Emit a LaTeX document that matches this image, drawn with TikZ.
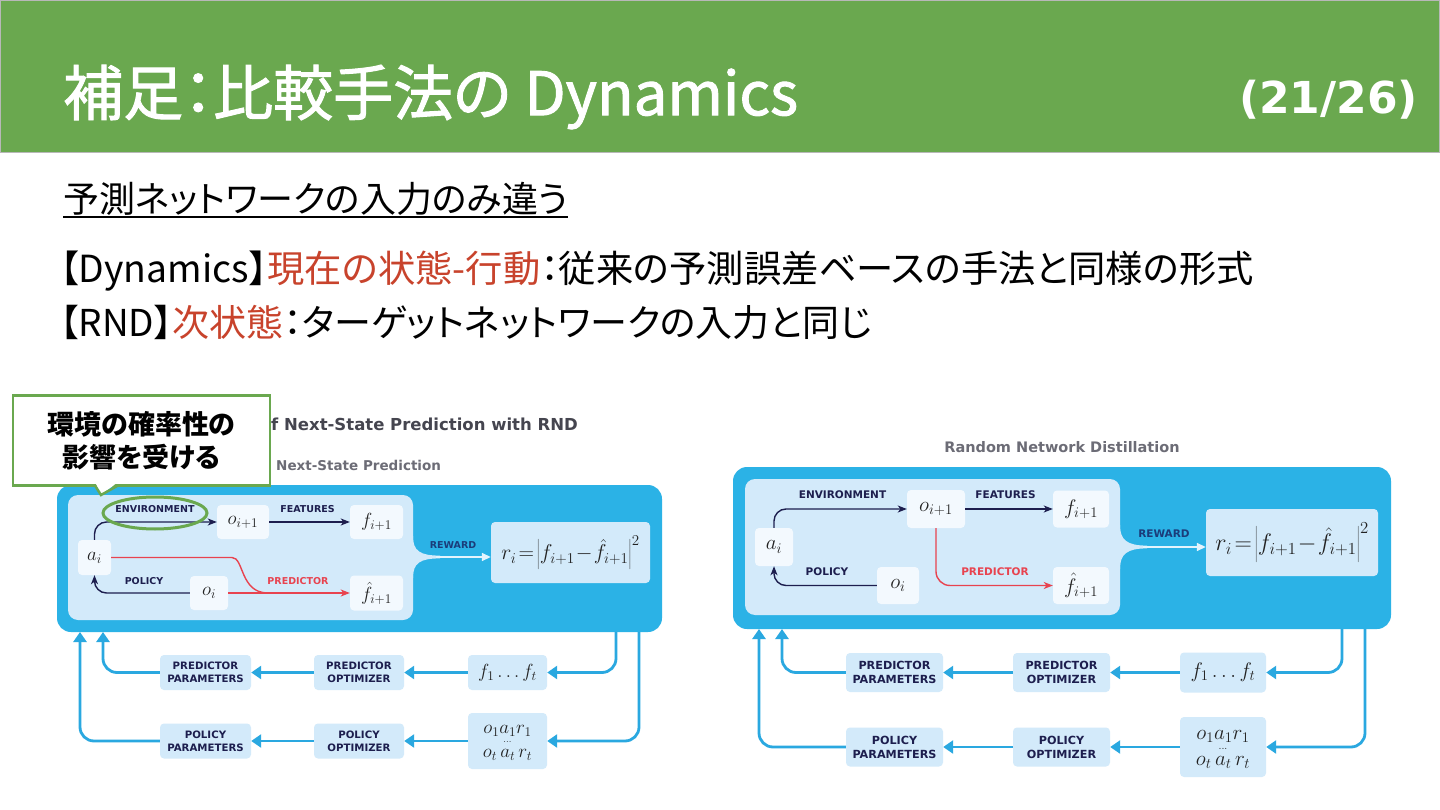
\RequirePackage{fix-cm}
\documentclass[tikz,border=0pt]{standalone}
\usepackage[no-math]{fontspec}
\usetikzlibrary{arrows.meta}
\newfontfamily\jp[RawFeature=+palt]{Noto Sans CJK JP}
\newfontfamily\jpt[RawFeature=+palt,FakeBold=1.6]{Noto Sans CJK JP}
\newfontfamily\dv{DejaVu Sans}
\definecolor{hdr}{HTML}{6AA84F}
\definecolor{hdrline}{HTML}{B8B8B8}
\definecolor{jred}{HTML}{C8432C}
\definecolor{obl}{HTML}{2BB2E6}
\definecolor{pnlc}{HTML}{D3EAFA}
\definecolor{wbc}{HTML}{F3F9FE}
\definecolor{lbc}{HTML}{D3EAFA}
\definecolor{navy}{HTML}{1D1E4E}
\definecolor{rnavy}{HTML}{1B3C7A}
\definecolor{dred}{HTML}{E8434F}
\definecolor{fbc}{HTML}{2AA8E0}
\definecolor{rwc}{HTML}{E4F4FD}
\definecolor{mtxt}{HTML}{222222}
\definecolor{ttl}{HTML}{45454F}
\definecolor{sttl}{HTML}{6C6C76}
\definecolor{cg}{HTML}{6AA84F}
\begin{document}
\begin{tikzpicture}[x=1pt,y=-1pt,
  obox/.style={fill=obl, rounded corners=14pt},
  pnl/.style={fill=pnlc, rounded corners=10pt},
  wb/.style={fill=wbc, rounded corners=4pt, inner sep=0, text=mtxt},
  lb/.style={fill=lbc, rounded corners=4pt, inner sep=0, align=center, text=navy},
  lab/.style={inner sep=0, text=navy},
  nav/.style={draw=navy, line width=1.4pt, rounded corners=12pt, -{Stealth[length=9pt,width=7pt,inset=2.5pt]}},
  rdl/.style={draw=dred, line width=1.4pt, rounded corners=14pt},
  rda/.style={rdl, -{Stealth[length=9pt,width=7pt,inset=2.5pt]}},
  fb/.style={draw=fbc, line width=2.8pt, rounded corners=14pt, -{Triangle[length=10pt,width=13pt]}},
  rw/.style={draw=rwc, line width=1.6pt, -{Triangle[length=9pt,width=8pt]}},
  mL/.style={font=\fontsize{19}{24}\selectfont},
  mR/.style={font=\fontsize{21}{26}\selectfont},
  labL/.style={lab, font=\dv\bfseries\fontsize{9.5}{11}\selectfont},
  labR/.style={lab, font=\dv\bfseries\fontsize{10.5}{12}\selectfont},
  lbL/.style={lb, font=\dv\bfseries\fontsize{10.2}{13}\selectfont},
  lbR/.style={lb, font=\dv\bfseries\fontsize{11.2}{14}\selectfont},
]
\useasboundingbox (0,0) rectangle (1440,810);
\fill[white] (0,0) rectangle (1440,810);
% header
\fill[hdr] (0,0) rectangle (1440,152);
\draw[hdrline, line width=1pt] (0.5,152) -- (0.5,0.5) -- (1439.5,0.5) -- (1439.5,152);
\draw[hdrline, line width=1.5pt] (0,152.5) -- (1440,152.5);
\node[anchor=west, text=white, font=\jpt\fontsize{60}{70}\selectfont, inner sep=0] (title) at (63,97) {補足：比較手法の Dynamics};
\node[anchor=east, text=white, font=\dv\bfseries\fontsize{44}{50}\selectfont, inner sep=0] (page) at (1418,100) {(21/26)};
% body text
\node[anchor=west, font=\jp\fontsize{36}{42}\selectfont, inner sep=0] (sub) at (63,199) {予測ネットワークの入力のみ違う};
\draw[line width=2pt] ([yshift=-1pt]sub.south west) -- ([yshift=-1pt]sub.south east);
\node[anchor=west, font=\jp\fontsize{37.3}{43}\selectfont, inner sep=0] (l2) at (60,271) {【Dynamics】\textcolor{jred}{現在の状態-行動}：従来の予測誤差ベースの手法と同様の形式};
\node[anchor=west, font=\jp\fontsize{37}{43}\selectfont, inner sep=0] (l3) at (60,322) {【RND】\textcolor{jred}{次状態}：ターゲットネットワークの入力と同じ};

% ================= LEFT DIAGRAM =================
\node[anchor=west, inner sep=0, text=ttl, font=\dv\bfseries\fontsize{16.5}{18}\selectfont] (tL) at (271,424) {f Next-State Prediction with RND};
\node[anchor=west, inner sep=0, text=sttl, font=\dv\bfseries\fontsize{13.5}{15}\selectfont] (stL) at (276,465) {Next-State Prediction};
\fill[obox] (57,485) rectangle (662,632);
\fill[pnl] (68,495) rectangle (413,620);
\fill[pnlc] (405,536) -- (413,536) .. controls (413,551) and (420,555.6) .. (440,555.6) -- (440,558.4) .. controls (420,558.4) and (413,563) .. (413,578) -- (405,578) -- cycle;
\node[wb, mL, minimum width=33pt, minimum height=35pt] (aL) at (94.5,557.5) {$a_i$};
\node[wb, mL, minimum width=52pt, minimum height=34pt] (o1L) at (243,522) {$o_{i+1}$};
\node[wb, mL, minimum width=38pt, minimum height=34pt] (oL) at (209,593) {$o_i$};
\node[wb, mL, minimum width=53pt, minimum height=34pt] (fL) at (376.5,522) {$f_{i+1}$};
\node[wb, mL, minimum width=53pt, minimum height=35pt] (fhL) at (376.5,593) {$\hat f_{i+1}$};
\node[wb, fill=pnlc, font=\fontsize{21.5}{26}\selectfont, minimum width=159pt, minimum height=61pt] (fmL) at (570.5,552.5) {$r_i\!=\!\left|f_{i+1}\!-\!\hat f_{i+1}\right|^2$};
\coordinate (rwL) at (436,557);
\draw[rw] (rwL) -- (rwL -| fmL.west);
\node[labL, text=rnavy] (rwtL) at (453,545) {REWARD};
\draw[nav] (aL.north) |- (o1L.west);
\draw[nav] (o1L) -- (fL);
\draw[nav] (oL.west) -| (aL.south);
\draw[rdl] (aL.east) -- (218,557.5) .. controls (244,557.5) and (240,593) .. (268,593);
\draw[rda] (oL.east) -- (fhL.west);
\node[labL] (envL) at (155,509) {ENVIRONMENT};
\node[labL] (featL) at (307.5,509) {FEATURES};
\node[labL] (polL) at (144,581) {POLICY};
\node[labL, text=dred] (predL) at (298,581) {PREDICTOR};
% lower
\node[lbL, minimum width=91pt, minimum height=35pt] (ppL) at (205.5,672.5) {PREDICTOR\\PARAMETERS};
\node[lbL, minimum width=90pt, minimum height=35pt] (poL) at (359,672.5) {PREDICTOR\\OPTIMIZER};
\node[lb, mL, text=mtxt, minimum width=79pt, minimum height=35pt] (fsL) at (507.5,672.5) {$f_1\ldots f_t$};
\node[lbL, minimum width=91pt, minimum height=35pt] (qpL) at (205.5,741) {POLICY\\PARAMETERS};
\node[lbL, minimum width=90pt, minimum height=35pt] (qoL) at (359,741) {POLICY\\OPTIMIZER};
\node[lb, mL, text=mtxt, minimum width=79pt, minimum height=56pt] (trL) at (507.5,741) {$\begin{array}{@{}c@{}}o_1a_1r_1\\[-15pt]{\scriptscriptstyle\ldots}\\[-9pt]o_t\,a_t\,r_t\end{array}$};
\coordinate (dL1) at (616,632);
\coordinate (dL2) at (639,632);
\coordinate (uL1) at (103,632);
\coordinate (uL2) at (80,632);
\draw[fb] (dL1) |- (fsL.east);
\draw[fb] (dL2) |- (trL.east);
\draw[fb] (fsL.west) -- (poL.east);
\draw[fb] (poL.west) -- (ppL.east);
\draw[fb] (ppL.west) -| (uL1);
\draw[fb] (trL.west) -- (qoL.east);
\draw[fb] (qoL.west) -- (qpL.east);
\draw[fb] (qpL.west) -| (uL2);

% ================= RIGHT DIAGRAM =================
\node[inner sep=0, text=sttl, font=\dv\bfseries\fontsize{14.5}{16}\selectfont] (tR) at (1062,447) {Random Network Distillation};
\fill[obox] (733,467) rectangle (1391,629);
\fill[pnl] (745,479) rectangle (1120,615);
\fill[pnlc] (1112,525) -- (1120,525) .. controls (1120,540) and (1127,545.6) .. (1147,545.6) -- (1147,548.4) .. controls (1127,548.4) and (1120,554) .. (1120,569) -- (1112,569) -- cycle;
\node[wb, mR, minimum width=38pt, minimum height=38pt] (aR) at (774,547) {$a_i$};
\node[wb, mR, minimum width=58pt, minimum height=38pt] (o1R) at (936,509) {$o_{i+1}$};
\node[wb, mR, minimum width=42pt, minimum height=37pt] (oR) at (898,585.5) {$o_i$};
\node[wb, mR, minimum width=56pt, minimum height=37pt] (fR) at (1081,509) {$f_{i+1}$};
\node[wb, mR, minimum width=56pt, minimum height=37pt] (fhR) at (1081,585.5) {$\hat f_{i+1}$};
\node[wb, fill=pnlc, font=\fontsize{24}{29}\selectfont, minimum width=172pt, minimum height=67pt] (fmR) at (1292,542.5) {$r_i\!=\!\left|f_{i+1}\!-\!\hat f_{i+1}\right|^2$};
\coordinate (rwR) at (1143,547);
\draw[rw] (rwR) -- (rwR -| fmR.west);
\node[labR, text=rnavy] (rwtR) at (1164,534) {REWARD};
\draw[nav] (aR.north) |- (o1R.west);
\draw[nav] (o1R) -- (fR);
\draw[nav] (oR.west) -| (aR.south);
\draw[rda] (o1R.south) |- (fhR.west);
\node[labR] (envR) at (842.5,495) {ENVIRONMENT};
\node[labR] (featR) at (1005.5,495) {FEATURES};
\node[labR] (polR) at (827,572) {POLICY};
\node[labR, text=dred] (predR) at (995,572) {PREDICTOR};
% lower
\node[lbR, minimum width=97pt, minimum height=39pt] (ppR) at (894.5,672.5) {PREDICTOR\\PARAMETERS};
\node[lbR, minimum width=97pt, minimum height=39pt] (poR) at (1061.5,672.5) {PREDICTOR\\OPTIMIZER};
\node[lb, mR, text=mtxt, minimum width=86pt, minimum height=40pt] (fsR) at (1223,672.5) {$f_1\ldots f_t$};
\node[lbR, minimum width=97pt, minimum height=39pt] (qpR) at (894.5,747) {POLICY\\PARAMETERS};
\node[lbR, minimum width=97pt, minimum height=39pt] (qoR) at (1061.5,747) {POLICY\\OPTIMIZER};
\node[lb, mR, text=mtxt, minimum width=86pt, minimum height=60pt] (trR) at (1223,747) {$\begin{array}{@{}c@{}}o_1a_1r_1\\[-16pt]{\scriptscriptstyle\ldots}\\[-10pt]o_t\,a_t\,r_t\end{array}$};
\coordinate (dR1) at (1342,629);
\coordinate (dR2) at (1365,629);
\coordinate (uR1) at (782,629);
\coordinate (uR2) at (759,629);
\draw[fb] (dR1) |- (fsR.east);
\draw[fb] (dR2) |- (trR.east);
\draw[fb] (fsR.west) -- (poR.east);
\draw[fb] (poR.west) -- (ppR.east);
\draw[fb] (ppR.west) -| (uR1);
\draw[fb] (trR.west) -- (qoR.east);
\draw[fb] (qoR.west) -- (qpR.east);
\draw[fb] (qpR.west) -| (uR2);

% ================= CALLOUT =================
\draw[cg, line width=3pt] (155,513) ellipse [x radius=52, y radius=16];
\node[draw=cg, fill=white, line width=2.5pt, minimum width=257pt, minimum height=90pt, inner sep=0] (co) at (141.5,440.5) {};
\fill[white] (95,482) -- (118,482) -- (101,495) -- cycle;
\draw[cg, line width=2.5pt, line join=miter] (95,485.5) -- (101,495) -- (118,485.5);
\node[inner sep=0, align=center, font=\jp\bfseries\fontsize{27}{33}\selectfont] (cot) at (141.5,440.5) {環境の確率性の\\影響を受ける};
\end{tikzpicture}
\end{document}
